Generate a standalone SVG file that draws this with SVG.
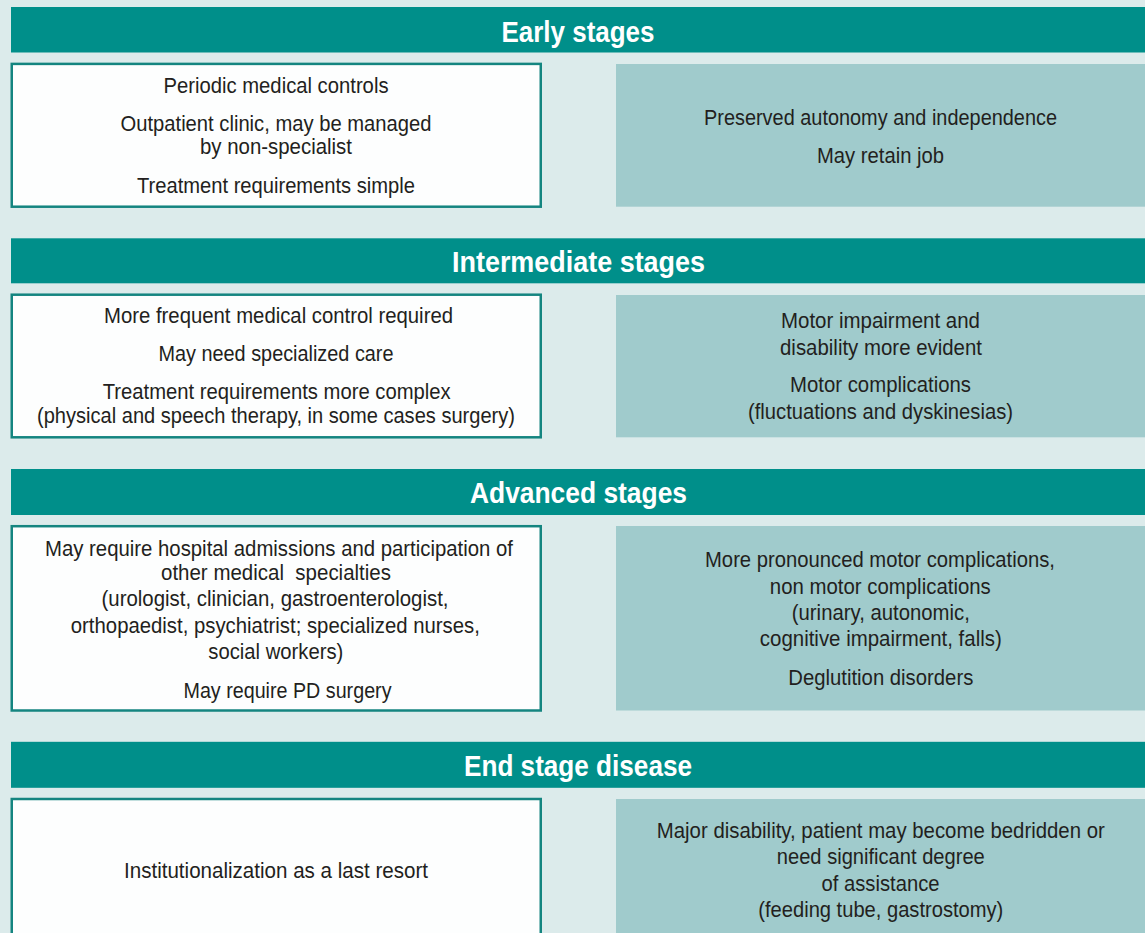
<svg xmlns="http://www.w3.org/2000/svg" width="1145" height="933" viewBox="0 0 1145 933">
<style>
.bg{fill:#dcebeb}
.hdr{fill:#008f8a}
.lbox{fill:#fdfefe;stroke:#148580;stroke-width:2.5}
.rbox{fill:#a0cbcc}
.ht{font-family:"Liberation Sans Narrow","Liberation Sans",Arial,sans-serif;font-weight:bold;font-size:29px;fill:#ffffff;text-anchor:middle}
.t{font-family:"Liberation Sans Narrow","Liberation Sans",Arial,sans-serif;font-size:22px;fill:#231f20;text-anchor:middle}
</style>
<rect class="bg" x="0" y="0" width="1145" height="933"/>

<g id="early-header">
<rect class="hdr" x="11" y="7" width="1134" height="45.5"/>
<text class="ht" x="578" y="41.5" textLength="153" lengthAdjust="spacingAndGlyphs">Early stages</text>
</g>
<g id="early-care">
<rect class="lbox" x="11.75" y="63.9" width="529" height="142.8"/>
<text class="t" x="276" y="92.7" textLength="225" lengthAdjust="spacingAndGlyphs">Periodic medical controls</text>
<text class="t" x="276" y="130.7" textLength="311" lengthAdjust="spacingAndGlyphs">Outpatient clinic, may be managed</text>
<text class="t" x="276" y="154.3" textLength="152" lengthAdjust="spacingAndGlyphs">by non-specialist</text>
<text class="t" x="276" y="192.7" textLength="278" lengthAdjust="spacingAndGlyphs">Treatment requirements simple</text>
</g>
<g id="early-patient">
<rect class="rbox" x="616" y="64" width="529" height="142.7"/>
<text class="t" x="880.5" y="124.5" textLength="353" lengthAdjust="spacingAndGlyphs">Preserved autonomy and independence</text>
<text class="t" x="880.5" y="162.5" textLength="127" lengthAdjust="spacingAndGlyphs">May retain job</text>
</g>

<g id="intermediate-header">
<rect class="hdr" x="11" y="238.3" width="1134" height="45"/>
<text class="ht" x="578.5" y="272.3" textLength="253" lengthAdjust="spacingAndGlyphs">Intermediate stages</text>
</g>
<g id="intermediate-care">
<rect class="lbox" x="11.75" y="294.7" width="529" height="142.6"/>
<text class="t" x="278.5" y="323.3" textLength="349" lengthAdjust="spacingAndGlyphs">More frequent medical control required</text>
<text class="t" x="276" y="361" textLength="235" lengthAdjust="spacingAndGlyphs">May need specialized care</text>
<text class="t" x="276.7" y="399.3" textLength="348" lengthAdjust="spacingAndGlyphs">Treatment requirements more complex</text>
<text class="t" x="276" y="423.3" textLength="478" lengthAdjust="spacingAndGlyphs">(physical and speech therapy, in some cases surgery)</text>
</g>
<g id="intermediate-patient">
<rect class="rbox" x="616" y="295" width="529" height="142.3"/>
<text class="t" x="880.5" y="328.3" textLength="199" lengthAdjust="spacingAndGlyphs">Motor impairment and</text>
<text class="t" x="881" y="355" textLength="202" lengthAdjust="spacingAndGlyphs">disability more evident</text>
<text class="t" x="880.5" y="392.3" textLength="181" lengthAdjust="spacingAndGlyphs">Motor complications</text>
<text class="t" x="880.5" y="418.7" textLength="265" lengthAdjust="spacingAndGlyphs">(fluctuations and dyskinesias)</text>
</g>

<g id="advanced-header">
<rect class="hdr" x="11" y="469" width="1134" height="46"/>
<text class="ht" x="578.5" y="503" textLength="217" lengthAdjust="spacingAndGlyphs">Advanced stages</text>
</g>
<g id="advanced-care">
<rect class="lbox" x="11.75" y="526.2" width="529" height="184.3"/>
<text class="t" x="279" y="555.7" textLength="468" lengthAdjust="spacingAndGlyphs">May require hospital admissions and participation of</text>
<text class="t" x="276" y="580" textLength="230" lengthAdjust="spacingAndGlyphs" xml:space="preserve">other medical  specialties</text>
<text class="t" x="275" y="605.5" textLength="347" lengthAdjust="spacingAndGlyphs">(urologist, clinician, gastroenterologist,</text>
<text class="t" x="275.3" y="632.5" textLength="409" lengthAdjust="spacingAndGlyphs">orthopaedist, psychiatrist; specialized nurses,</text>
<text class="t" x="275.8" y="659" textLength="135" lengthAdjust="spacingAndGlyphs">social workers)</text>
<text class="t" x="287.5" y="697.7" textLength="208" lengthAdjust="spacingAndGlyphs">May require PD surgery</text>
</g>
<g id="advanced-patient">
<rect class="rbox" x="616" y="526" width="529" height="184.5"/>
<text class="t" x="880" y="567.3" textLength="350" lengthAdjust="spacingAndGlyphs">More pronounced motor complications,</text>
<text class="t" x="880.3" y="593.7" textLength="221" lengthAdjust="spacingAndGlyphs">non motor complications</text>
<text class="t" x="880.8" y="619.7" textLength="178" lengthAdjust="spacingAndGlyphs">(urinary, autonomic,</text>
<text class="t" x="880.8" y="646" textLength="242" lengthAdjust="spacingAndGlyphs">cognitive impairment, falls)</text>
<text class="t" x="880.8" y="685" textLength="185" lengthAdjust="spacingAndGlyphs">Deglutition disorders</text>
</g>

<g id="end-header">
<rect class="hdr" x="11" y="741.8" width="1134" height="46"/>
<text class="ht" x="578" y="776" textLength="228" lengthAdjust="spacingAndGlyphs">End stage disease</text>
</g>
<g id="end-care">
<rect class="lbox" x="11.75" y="799" width="529" height="150"/>
<text class="t" x="276" y="878.3" textLength="304" lengthAdjust="spacingAndGlyphs">Institutionalization as a last resort</text>
</g>
<g id="end-patient">
<rect class="rbox" x="616" y="799" width="529" height="134"/>
<text class="t" x="880.8" y="838.3" textLength="448" lengthAdjust="spacingAndGlyphs">Major disability, patient may become bedridden or</text>
<text class="t" x="880.8" y="864.3" textLength="208" lengthAdjust="spacingAndGlyphs">need significant degree</text>
<text class="t" x="880.5" y="890.5" textLength="118" lengthAdjust="spacingAndGlyphs">of assistance</text>
<text class="t" x="880.8" y="916.5" textLength="245" lengthAdjust="spacingAndGlyphs">(feeding tube, gastrostomy)</text>
</g>

<g id="connectors"></g>
</svg>
